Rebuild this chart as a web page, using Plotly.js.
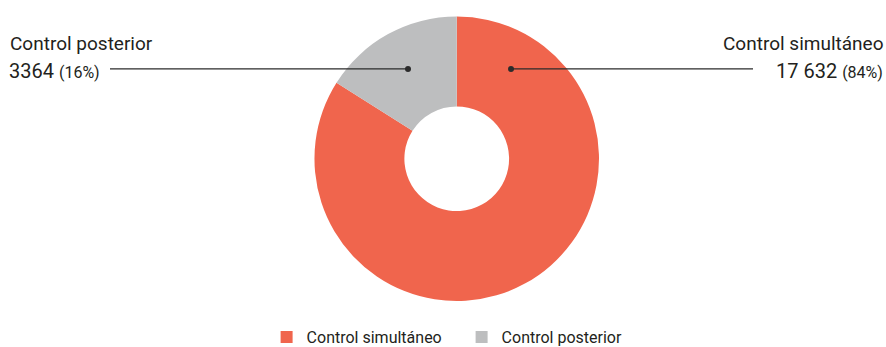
<!DOCTYPE html>
<html>
<head>
<meta charset="utf-8">
<script src="https://cdn.plot.ly/plotly-3.0.1.min.js"></script>
<style>
  html, body { margin: 0; padding: 0; background: #ffffff; }
  #chart { width: 886px; height: 347px; }
</style>
</head>
<body>
<div id="chart"></div>
<script>
// Series: counts per control type
const categories = ['Control simultáneo', 'Control posterior'];
const counts = [17632, 3364];
const countLabels = ['17 632', '3364'];
const sliceColors = ['#F0654D', '#BDBEBF'];

const total = counts.reduce((a, b) => a + b, 0);
const shares = counts.map(v => Math.round(100 * v / total) + '%');

const FONT = '"Roboto", "DejaVu Sans Condensed", sans-serif';
const INK = '#231F20';

const W = 886, H = 347;
// Bottom strip reserved for the legend; the plot area spans the rest.
const MB = 45.5;
const PH = H - MB;
const px = x => x / W;
const py = y => (PH - y) / PH;

const trace = {
  type: 'pie',
  labels: categories,
  values: counts,
  marker: { colors: sliceColors, line: { width: 0 } },
  hole: 0.368,
  sort: false,
  direction: 'clockwise',
  rotation: 0,
  textinfo: 'none',
  hoverinfo: 'label+value+percent',
  domain: { x: [0.2155, 0.8155], y: [0, py(16.5)] }
};

// Callout labels (right = first slice, left = second slice)
const annotations = [
  { x: px(885), y: py(44), xanchor: 'right', yanchor: 'middle',
    text: categories[0], font: { size: 19 } },
  { x: px(885), y: py(71), xanchor: 'right', yanchor: 'middle',
    text: countLabels[0] + ' <span style="font-size:16px">(' + shares[0] + ')</span>', font: { size: 20 } },
  { x: px(8), y: py(44), xanchor: 'left', yanchor: 'middle',
    text: categories[1], font: { size: 19 } },
  { x: px(7), y: py(71), xanchor: 'left', yanchor: 'middle',
    text: countLabels[1] + ' <span style="font-size:16px">(' + shares[1] + ')</span>', font: { size: 20 } }
].map(a => Object.assign({ xref: 'paper', yref: 'paper', showarrow: false }, a, {
  font: Object.assign({ family: FONT, color: INK }, a.font)
}));

// Leader lines with end dots
const lineStyle = { color: '#2b2b2b', width: 1.3 };
const shapes = [
  { type: 'line', x0: px(511), x1: px(753), y0: py(69), y1: py(69), line: lineStyle },
  { type: 'line', x0: px(110), x1: px(408), y0: py(69), y1: py(69), line: lineStyle },
  { type: 'circle', x0: px(508), x1: px(514), y0: py(66), y1: py(72), fillcolor: '#2b2b2b', line: { width: 0 } },
  { type: 'circle', x0: px(405), x1: px(411), y0: py(66), y1: py(72), fillcolor: '#2b2b2b', line: { width: 0 } }
].map(s => Object.assign({ xref: 'paper', yref: 'paper' }, s));

const layout = {
  width: W,
  height: H,
  margin: { l: 0, r: 0, t: 0, b: MB },
  paper_bgcolor: '#ffffff',
  plot_bgcolor: '#ffffff',
  showlegend: true,
  legend: {
    orientation: 'h',
    xref: 'container', yref: 'container',
    x: 0.521, xanchor: 'center',
    y: 1 - 337 / H, yanchor: 'middle',
    entrywidth: 150,
    font: { family: FONT, size: 16, color: INK },
    traceorder: 'normal',
    itemclick: false
  },
  annotations: annotations,
  shapes: shapes
};

Plotly.newPlot('chart', [trace], layout, { displayModeBar: false, staticPlot: true });
</script>
</body>
</html>
